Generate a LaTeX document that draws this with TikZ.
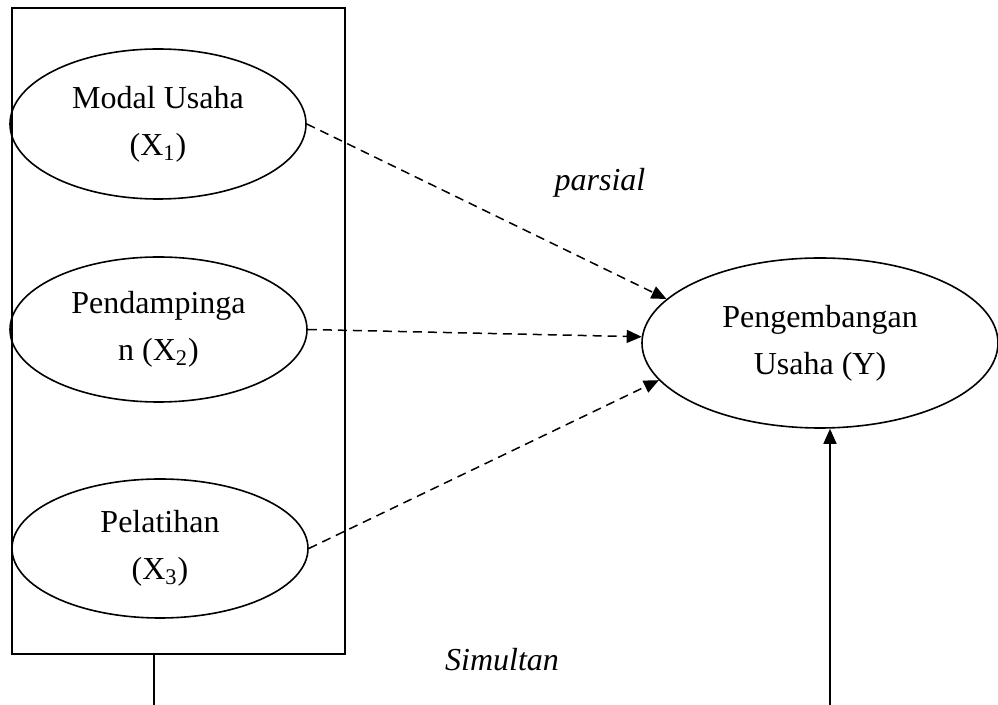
\documentclass[tikz,border=0pt]{standalone}
\usepackage{fontspec}
\setmainfont{Liberation Serif}
\usetikzlibrary{shapes.geometric,arrows.meta}

\begin{document}
\begin{tikzpicture} [
  x=0.5pt, y=-0.5pt,
  every node/.style={font=\fontsize{16}{23.5}\selectfont, align=center},
  var/.style={ellipse, draw, line width=0.8pt, inner sep=0pt},
  group/.style={rectangle, draw, line width=0.9pt, minimum width=166.5pt, minimum height=323pt},
  tip/.style={-{Triangle[length=7.5pt,width=6.5pt]}},
  dasharrow/.style={tip, line width=0.75pt, dash pattern=on 4.5pt off 3pt},
  solidarrow/.style={tip, line width=0.8pt}
  ]
  \useasboundingbox (0,0) rectangle (998,705);

  \node (box) [group] at (178.5,331) {};

  \node (n1) [var, minimum width=148pt, minimum height=75pt] at (158,124)
    {Modal Usaha\\(X\textsubscript{1})};
  \node (n2) [var, minimum width=148.5pt, minimum height=72.5pt] at (158.5,329.5)
    {Pendampinga\\n (X\textsubscript{2})};
  \node (n3) [var, minimum width=148pt, minimum height=69.5pt] at (160,548.5)
    {Pelatihan\\(X\textsubscript{3})};
  \node (ny) [var, minimum width=178pt, minimum height=85pt] at (820,343)
    {Pengembangan\\Usaha (Y)};

  \node (lp) at (600,183) {\itshape parsial};
  \node (ls) at (502,660) {\itshape Simultan};

  \coordinate (b1) at (154,705);
  \coordinate (b2) at (830,705);

  \draw [dasharrow] (n1.east) -- (ny.164);
  \draw [dasharrow] (n2.east) -- (ny.178);
  \draw [dasharrow] (n3.east) -- (ny.193);

  \draw [line width=0.8pt] (box.south -| b1) -- (b1);
  \draw [solidarrow] (b2) -- (ny.south -| b2);
\end{tikzpicture}
\end{document}
